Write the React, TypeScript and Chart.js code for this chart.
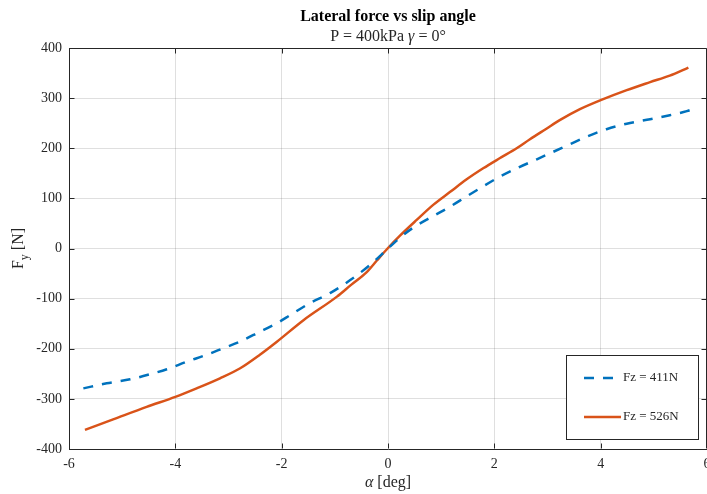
import { useEffect, useRef } from "react";
import { Chart, registerables } from "chart.js";
Chart.register(...registerables);

const alphaLow = [-5.73, -5.29, -4.85, -4.48, -4.16, -3.79, -3.41, -3.1, -2.79, -2.41, -2.09, -1.84, -1.47, -1.09, -0.71, -0.34, 0, 0.23, 0.48, 0.82, 1.16, 1.48, 1.79, 2.1, 2.42, 2.8, 3.36, 3.74, 4.11, 4.49, 4.93, 5.3, 5.62, 5.82];
const fyLow = [-279, -269, -261, -251, -241, -226, -212, -199, -186, -166, -149, -133, -109, -89, -63, -33, 0, 22, 42, 63, 83, 104, 124, 143, 160, 178, 205, 223, 238, 249, 258, 266, 274, 281];
const alphaHigh = [-5.7, -5.17, -4.54, -4.0, -3.6, -3.16, -2.78, -2.41, -2.09, -1.59, -0.96, -0.7, -0.4, -0.21, 0, 0.23, 0.54, 0.85, 1.17, 1.48, 1.79, 2.1, 2.42, 2.67, 2.98, 3.23, 3.61, 4.0, 4.49, 4.93, 5.3, 5.65];
const fyHigh = [-362, -341, -316, -296, -279, -259, -239, -212, -186, -143, -96, -73, -47, -24, 1, 26, 57, 87, 113, 138, 160, 180, 200, 218, 239, 256, 278, 296, 316, 332, 345, 361];

const xTicks = [-6, -4, -2, 0, 2, 4, 6];
const yTicks = [-400, -300, -200, -100, 0, 100, 200, 300, 400];
const seriesLabels = ["Fz = 411N", "Fz = 526N"];
const seriesColors = ["#0072BD", "#D95319"];
const titleText = "Lateral force vs slip angle";

const AX = "#262626";
const SERIF = '"Liberation Serif", "Times New Roman", serif';
const DASH = [10, 9];

type Run = { t: string; f: string; dy?: number };

function runsWidth(ctx: CanvasRenderingContext2D, runs: Run[]) {
  let w = 0;
  for (const r of runs) {
    ctx.font = r.f;
    w += ctx.measureText(r.t).width;
  }
  return w;
}
function drawRuns(ctx: CanvasRenderingContext2D, runs: Run[], cx: number, y: number) {
  const w = runsWidth(ctx, runs);
  let x = cx - w / 2;
  ctx.textAlign = "left";
  ctx.textBaseline = "middle";
  for (const r of runs) {
    ctx.font = r.f;
    ctx.fillText(r.t, x, y + (r.dy || 0));
    x += ctx.measureText(r.t).width;
  }
}

const decor = {
  id: "decor",
  afterDraw(chart: any) {
    const ctx: CanvasRenderingContext2D = chart.ctx;
    const a = chart.chartArea;
    const xs = chart.scales.x;
    const ys = chart.scales.y;
    const L = Math.round(a.left) + 0.5;
    const R = Math.round(a.right) - 0.5;
    const T = Math.round(a.top) + 0.5;
    const B = Math.round(a.bottom) - 0.5;
    ctx.save();
    ctx.strokeStyle = AX;
    ctx.lineWidth = 1;
    ctx.beginPath();
    ctx.moveTo(L, T);
    ctx.lineTo(R, T);
    ctx.lineTo(R, B);
    ctx.stroke();
    const tl = 5;
    ctx.beginPath();
    for (const v of xTicks) {
      const px = Math.round(xs.getPixelForValue(v)) + 0.5;
      ctx.moveTo(px, B);
      ctx.lineTo(px, B - tl);
      ctx.moveTo(px, T);
      ctx.lineTo(px, T + tl);
    }
    for (const v of yTicks) {
      const py = Math.round(ys.getPixelForValue(v)) + 0.5;
      ctx.moveTo(L, py);
      ctx.lineTo(L + tl, py);
      ctx.moveTo(R, py);
      ctx.lineTo(R - tl, py);
    }
    ctx.stroke();

    // titles
    const cx = (a.left + a.right) / 2;
    ctx.fillStyle = "#000";
    drawRuns(ctx, [{ t: titleText, f: `bold 16px ${SERIF}` }], cx, 17);
    ctx.fillStyle = AX;
    drawRuns(ctx, [
      { t: "P = 400kPa ", f: `16px ${SERIF}` },
      { t: "γ", f: `italic 16px ${SERIF}` },
      { t: " = 0°", f: `16px ${SERIF}` },
    ], cx, 37);
    drawRuns(ctx, [
      { t: "α", f: `italic 16px ${SERIF}` },
      { t: " [deg]", f: `16px ${SERIF}` },
    ], cx, 483);
    ctx.save();
    ctx.translate(19, (a.top + a.bottom) / 2);
    ctx.rotate(-Math.PI / 2);
    drawRuns(ctx, [
      { t: "F", f: `16px ${SERIF}` },
      { t: "y", f: `12px ${SERIF}`, dy: 6 },
      { t: " [N]", f: `16px ${SERIF}` },
    ], 0, 0);
    ctx.restore();

    // legend
    const bx = 566.5, by = 355.5, bw = 132, bh = 84;
    ctx.fillStyle = "#fff";
    ctx.fillRect(bx, by, bw, bh);
    ctx.strokeStyle = AX;
    ctx.lineWidth = 1;
    ctx.strokeRect(bx, by, bw, bh);
    const rows = [378, 417];
    seriesLabels.forEach((lab, i) => {
      ctx.strokeStyle = seriesColors[i];
      ctx.lineWidth = 2.5;
      ctx.setLineDash(i === 0 ? DASH : []);
      ctx.beginPath();
      ctx.moveTo(584, rows[i]);
      ctx.lineTo(i === 0 ? 613 : 621, rows[i]);
      ctx.stroke();
      ctx.setLineDash([]);
      ctx.fillStyle = AX;
      ctx.font = `13px ${SERIF}`;
      ctx.textAlign = "left";
      ctx.textBaseline = "middle";
      ctx.fillText(lab, 623, rows[i]);
    });
    ctx.restore();
  },
};

export default function App() {
  const ref = useRef<HTMLCanvasElement>(null);
  useEffect(() => {
    if (!ref.current) return;
    const mk = (xa: number[], ya: number[]) => xa.map((x, i) => ({ x, y: ya[i] }));
    const chart = new Chart(ref.current, {
      type: "line",
      data: {
        datasets: [
          {
            label: seriesLabels[0],
            data: mk(alphaLow, fyLow),
            borderColor: seriesColors[0],
            borderWidth: 2.5,
            borderDash: DASH,
            pointRadius: 0,
            cubicInterpolationMode: "monotone",
            fill: false,
          },
          {
            label: seriesLabels[1],
            data: mk(alphaHigh, fyHigh),
            borderColor: seriesColors[1],
            borderWidth: 2.5,
            pointRadius: 0,
            cubicInterpolationMode: "monotone",
            fill: false,
          },
        ],
      },
      options: {
        responsive: false,
        animation: false,
        devicePixelRatio: 1,
        layout: { padding: { left: 0, right: 23, top: 48, bottom: 0 } },
        plugins: { legend: { display: false }, tooltip: { enabled: false }, title: { display: false } },
        scales: {
          x: {
            type: "linear",
            min: -6,
            max: 6,
            afterBuildTicks: (s: any) => { s.ticks = xTicks.map((v) => ({ value: v })); },
            afterFit: (s: any) => { s.height = 45; },
            ticks: { padding: 7, color: AX, font: { family: SERIF, size: 14 }, maxRotation: 0 },
            grid: { color: "rgba(38,38,38,0.15)", drawTicks: false, lineWidth: 1 },
            border: { display: true, color: AX, width: 1 },
          },
          y: {
            type: "linear",
            min: -400,
            max: 400,
            afterBuildTicks: (s: any) => { s.ticks = yTicks.map((v) => ({ value: v })); },
            afterFit: (s: any) => { s.width = 69; },
            ticks: { padding: 7, color: AX, font: { family: SERIF, size: 14 } },
            grid: { color: "rgba(38,38,38,0.15)", drawTicks: false, lineWidth: 1 },
            border: { display: true, color: AX, width: 1 },
          },
        },
      },
      plugins: [decor],
    } as any);
    return () => chart.destroy();
  }, []);
  return (
    <div style={{ position: "fixed", left: 0, top: 0, width: 730, height: 494, background: "#fff" }}>
      <canvas ref={ref} width={730} height={494} style={{ display: "block" }} />
    </div>
  );
}
